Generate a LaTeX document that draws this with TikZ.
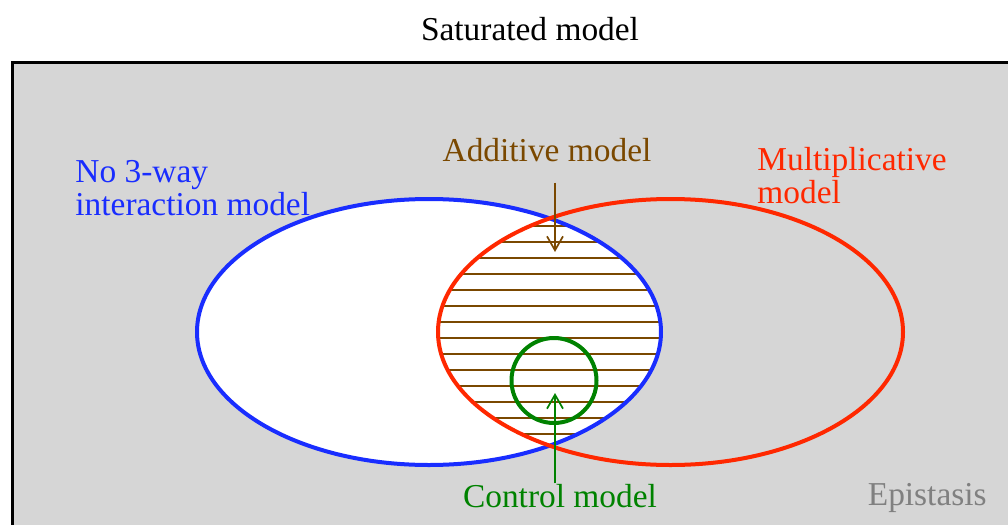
\documentclass[tikz,border=0pt]{standalone}
\usepackage{fontspec}
\setmainfont{Liberation Serif}
\usepackage{xcolor}
\usetikzlibrary{arrows.meta, positioning}

\definecolor{bggray}{RGB}{214,214,214}
\definecolor{setblue}{RGB}{25,45,255}
\definecolor{setred}{RGB}{255,40,0}
\definecolor{addbrown}{RGB}{122,72,0}
\definecolor{ctlgreen}{RGB}{0,130,0}
\definecolor{epigray}{RGB}{128,128,128}

\begin{document}
\begin{tikzpicture}[
  x=0.5pt, y=-0.5pt,
  lbl/.style={inner sep=0pt, font=\rmfamily\fontsize{16.7}{17}\selectfont},
  twoline/.style={lbl, align=left, font=\rmfamily\fontsize{16.7}{16.5}\selectfont},
  setline/.style={line width=2pt},
  arr/.style={-{Straight Barb[length=7pt, width=8pt, line width=0.85pt]}, line width=0.85pt},
  hatch/.style={addbrown, line width=0.65pt}
]
\clip (0,0) rectangle (1008,525);

% outer set
\draw[fill=bggray, line width=1.5pt] (12,62) rectangle (1040,560);
\node[lbl, anchor=base] (saturated) at (530,40) {Saturated model};

% no 3-way set, white inside
\fill[white] (429,332) ellipse [x radius=232, y radius=133];

% additive = overlap, hatched
\begin{scope}
  \clip (429,332) ellipse [x radius=232, y radius=133];
  \clip (670.5,332) ellipse [x radius=232.5, y radius=133];
  \foreach \yy in {226,242,...,434}
    \draw[hatch] (430,\yy) -- (670,\yy);
\end{scope}

\draw[setline, setblue] (429,332) ellipse [x radius=232, y radius=133];
\draw[setline, setred] (670.5,332) ellipse [x radius=232.5, y radius=133];
\draw[setline, ctlgreen] (554,380.5) circle [radius=42.5];

% labels
\node[twoline, setblue, anchor=base west] (noway) at (75,215)
      {No 3-way\\interaction model};
\node[twoline, setred, anchor=base west] (multi) at (757,203)
      {Multiplicative\\model};
\node[lbl, addbrown, anchor=base] (additive) at (547,161) {Additive model};
\node[lbl, ctlgreen, anchor=base] (control) at (560,507) {Control model};
\node[lbl, epigray, anchor=base east] (epistasis) at (987,505) {Epistasis};

% pointers
\coordinate (addtip) at (555,252);
\coordinate (ctltip) at (555,393);
\draw[arr, addbrown, shorten <=10.5pt] (additive.south -| addtip) -- (addtip);
\draw[arr, ctlgreen] (control.north -| ctltip) -- (ctltip);
\end{tikzpicture}
\end{document}
